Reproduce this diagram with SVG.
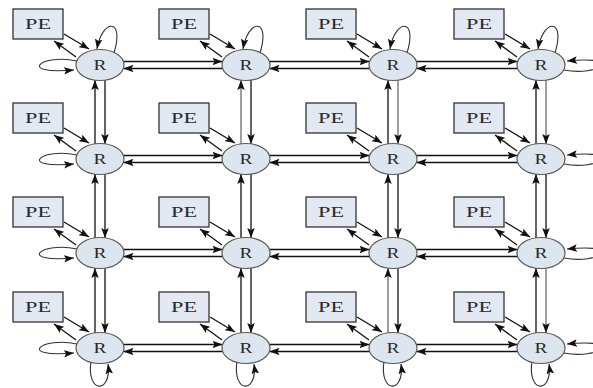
<svg xmlns="http://www.w3.org/2000/svg" xmlns:xlink="http://www.w3.org/1999/xlink" width="593" height="388" viewBox="0 0 593 388">
<style>
.l{stroke:#111;stroke-width:1.3;fill:none;marker-end:url(#ah)}
.g{stroke:#8e8e8e;stroke-width:1.7}
.lp{stroke:#333;stroke-width:1.1;fill:none;marker-end:url(#ah)}
.r ellipse{fill:#dde5ef;stroke:#5a5a5a;stroke-width:1.2}
.p rect{fill:#e2e9f2;stroke:#333;stroke-width:1.3}
text{font-family:"Liberation Serif","Times New Roman",serif;font-size:15px;fill:#2a2a2a;text-anchor:middle}
</style>
<defs>
<marker id="ah" markerUnits="userSpaceOnUse" markerWidth="10" markerHeight="7.5" refX="10" refY="3.75" orient="auto" viewBox="0 0 10 7.5">
<path d="M0,0 L10,3.75 L0,7.5 L2,3.75 z" fill="#111"/>
</marker>
<g id="pa">
<path class="l" d="M-36,-31 L-11,-16"/>
<path class="l" d="M-24,-8 L-46,-24"/>
</g>
<path id="lt" class="lp" d="M14,-12 C25,-48 2,-46 -3,-16"/>
<path id="ll" class="lp" d="M-23,-4 C-58,-12 -85,10 -26,5"/>
<path id="lr" class="lp" d="M23,5 C58,12 85,-10 26,-4"/>
<path id="lb" class="lp" d="M-9,13 C-14,46 12,46 8,16"/>
</defs>
<g id="connectors">
<path class="l" d="M123.5,61.5 H222.5"/><path class="l" d="M222.5,68.5 H123.5"/>
<path class="l" d="M269.5,61.5 H369.5"/><path class="l" d="M369.5,68.5 H269.5"/>
<path class="l" d="M416.5,61.5 H517.5"/><path class="l" d="M517.5,68.5 H416.5"/>
<path class="l" d="M123.5,155.5 H222.5"/><path class="l" d="M222.5,162.5 H123.5"/>
<path class="l" d="M269.5,155.5 H369.5"/><path class="l" d="M369.5,162.5 H269.5"/>
<path class="l" d="M416.5,155.5 H517.5"/><path class="l" d="M517.5,162.5 H416.5"/>
<path class="l" d="M123.5,249.5 H222.5"/><path class="l" d="M222.5,256.5 H123.5"/>
<path class="l" d="M269.5,249.5 H369.5"/><path class="l" d="M369.5,256.5 H269.5"/>
<path class="l" d="M416.5,249.5 H517.5"/><path class="l" d="M517.5,256.5 H416.5"/>
<path class="l" d="M123.5,344.5 H222.5"/><path class="l" d="M222.5,351.5 H123.5"/>
<path class="l" d="M269.5,344.5 H369.5"/><path class="l" d="M369.5,351.5 H269.5"/>
<path class="l" d="M416.5,344.5 H517.5"/><path class="l" d="M517.5,351.5 H416.5"/>
<path class="l" d="M95,144 V80"/><path class="l" d="M105,80 V144"/>
<path class="l" d="M95,238 V174"/><path class="l" d="M105,174 V238"/>
<path class="l" d="M95,333 V268"/><path class="l" d="M105,268 V333"/>
<path class="l g" d="M241,144 V80"/><path class="l" d="M251,80 V144"/>
<path class="l" d="M241,238 V174"/><path class="l" d="M251,174 V238"/>
<path class="l" d="M241,333 V268"/><path class="l" d="M251,268 V333"/>
<path class="l" d="M388,144 V80"/><path class="l g" d="M398,80 V144"/>
<path class="l" d="M388,238 V174"/><path class="l" d="M398,174 V238"/>
<path class="l g" d="M388,333 V268"/><path class="l" d="M398,268 V333"/>
<path class="l" d="M536,144 V80"/><path class="l g" d="M546,80 V144"/>
<path class="l" d="M536,238 V174"/><path class="l" d="M546,174 V238"/>
<path class="l" d="M536,333 V268"/><path class="l g" d="M546,268 V333"/>
<use xlink:href="#pa" x="100" y="65"/><use xlink:href="#pa" x="246" y="65"/><use xlink:href="#pa" x="393" y="65"/><use xlink:href="#pa" x="541" y="65"/>
<use xlink:href="#pa" x="100" y="159"/><use xlink:href="#pa" x="246" y="159"/><use xlink:href="#pa" x="393" y="159"/><use xlink:href="#pa" x="541" y="159"/>
<use xlink:href="#pa" x="100" y="253"/><use xlink:href="#pa" x="246" y="253"/><use xlink:href="#pa" x="393" y="253"/><use xlink:href="#pa" x="541" y="253"/>
<use xlink:href="#pa" x="100" y="348"/><use xlink:href="#pa" x="246" y="348"/><use xlink:href="#pa" x="393" y="348"/><use xlink:href="#pa" x="541" y="348"/>
<use xlink:href="#lt" x="100" y="65"/><use xlink:href="#lt" x="246" y="65"/><use xlink:href="#lt" x="393" y="65"/><use xlink:href="#lt" x="541" y="65"/>
<use xlink:href="#ll" x="100" y="65"/><use xlink:href="#ll" x="100" y="159"/><use xlink:href="#ll" x="100" y="253"/><use xlink:href="#ll" x="100" y="348"/>
<use xlink:href="#lr" x="541" y="65"/><use xlink:href="#lr" x="541" y="159"/><use xlink:href="#lr" x="541" y="253"/><use xlink:href="#lr" x="541" y="348"/>
<use xlink:href="#lb" x="100" y="348"/><use xlink:href="#lb" x="246" y="348"/><use xlink:href="#lb" x="393" y="348"/><use xlink:href="#lb" x="541" y="348"/>
</g>
<g id="nodes">
<g id="pe-1-1" class="p" transform="translate(100,65)"><rect x="-87" y="-56" width="50" height="30"/><text x="-62" y="-36" textLength="26" lengthAdjust="spacingAndGlyphs">PE</text></g>
<g id="pe-1-2" class="p" transform="translate(246,65)"><rect x="-87" y="-56" width="50" height="30"/><text x="-62" y="-36" textLength="26" lengthAdjust="spacingAndGlyphs">PE</text></g>
<g id="pe-1-3" class="p" transform="translate(393,65)"><rect x="-87" y="-56" width="50" height="30"/><text x="-62" y="-36" textLength="26" lengthAdjust="spacingAndGlyphs">PE</text></g>
<g id="pe-1-4" class="p" transform="translate(541,65)"><rect x="-87" y="-56" width="50" height="30"/><text x="-62" y="-36" textLength="26" lengthAdjust="spacingAndGlyphs">PE</text></g>
<g id="pe-2-1" class="p" transform="translate(100,159)"><rect x="-87" y="-56" width="50" height="30"/><text x="-62" y="-36" textLength="26" lengthAdjust="spacingAndGlyphs">PE</text></g>
<g id="pe-2-2" class="p" transform="translate(246,159)"><rect x="-87" y="-56" width="50" height="30"/><text x="-62" y="-36" textLength="26" lengthAdjust="spacingAndGlyphs">PE</text></g>
<g id="pe-2-3" class="p" transform="translate(393,159)"><rect x="-87" y="-56" width="50" height="30"/><text x="-62" y="-36" textLength="26" lengthAdjust="spacingAndGlyphs">PE</text></g>
<g id="pe-2-4" class="p" transform="translate(541,159)"><rect x="-87" y="-56" width="50" height="30"/><text x="-62" y="-36" textLength="26" lengthAdjust="spacingAndGlyphs">PE</text></g>
<g id="pe-3-1" class="p" transform="translate(100,253)"><rect x="-87" y="-56" width="50" height="30"/><text x="-62" y="-36" textLength="26" lengthAdjust="spacingAndGlyphs">PE</text></g>
<g id="pe-3-2" class="p" transform="translate(246,253)"><rect x="-87" y="-56" width="50" height="30"/><text x="-62" y="-36" textLength="26" lengthAdjust="spacingAndGlyphs">PE</text></g>
<g id="pe-3-3" class="p" transform="translate(393,253)"><rect x="-87" y="-56" width="50" height="30"/><text x="-62" y="-36" textLength="26" lengthAdjust="spacingAndGlyphs">PE</text></g>
<g id="pe-3-4" class="p" transform="translate(541,253)"><rect x="-87" y="-56" width="50" height="30"/><text x="-62" y="-36" textLength="26" lengthAdjust="spacingAndGlyphs">PE</text></g>
<g id="pe-4-1" class="p" transform="translate(100,348)"><rect x="-87" y="-56" width="50" height="30"/><text x="-62" y="-36" textLength="26" lengthAdjust="spacingAndGlyphs">PE</text></g>
<g id="pe-4-2" class="p" transform="translate(246,348)"><rect x="-87" y="-56" width="50" height="30"/><text x="-62" y="-36" textLength="26" lengthAdjust="spacingAndGlyphs">PE</text></g>
<g id="pe-4-3" class="p" transform="translate(393,348)"><rect x="-87" y="-56" width="50" height="30"/><text x="-62" y="-36" textLength="26" lengthAdjust="spacingAndGlyphs">PE</text></g>
<g id="pe-4-4" class="p" transform="translate(541,348)"><rect x="-87" y="-56" width="50" height="30"/><text x="-62" y="-36" textLength="26" lengthAdjust="spacingAndGlyphs">PE</text></g>
<g id="r-1-1" class="r" transform="translate(100,65)"><ellipse rx="24" ry="15.5"/><text y="5" textLength="13" lengthAdjust="spacingAndGlyphs">R</text></g>
<g id="r-1-2" class="r" transform="translate(246,65)"><ellipse rx="24" ry="15.5"/><text y="5" textLength="13" lengthAdjust="spacingAndGlyphs">R</text></g>
<g id="r-1-3" class="r" transform="translate(393,65)"><ellipse rx="24" ry="15.5"/><text y="5" textLength="13" lengthAdjust="spacingAndGlyphs">R</text></g>
<g id="r-1-4" class="r" transform="translate(541,65)"><ellipse rx="24" ry="15.5"/><text y="5" textLength="13" lengthAdjust="spacingAndGlyphs">R</text></g>
<g id="r-2-1" class="r" transform="translate(100,159)"><ellipse rx="24" ry="15.5"/><text y="5" textLength="13" lengthAdjust="spacingAndGlyphs">R</text></g>
<g id="r-2-2" class="r" transform="translate(246,159)"><ellipse rx="24" ry="15.5"/><text y="5" textLength="13" lengthAdjust="spacingAndGlyphs">R</text></g>
<g id="r-2-3" class="r" transform="translate(393,159)"><ellipse rx="24" ry="15.5"/><text y="5" textLength="13" lengthAdjust="spacingAndGlyphs">R</text></g>
<g id="r-2-4" class="r" transform="translate(541,159)"><ellipse rx="24" ry="15.5"/><text y="5" textLength="13" lengthAdjust="spacingAndGlyphs">R</text></g>
<g id="r-3-1" class="r" transform="translate(100,253)"><ellipse rx="24" ry="15.5"/><text y="5" textLength="13" lengthAdjust="spacingAndGlyphs">R</text></g>
<g id="r-3-2" class="r" transform="translate(246,253)"><ellipse rx="24" ry="15.5"/><text y="5" textLength="13" lengthAdjust="spacingAndGlyphs">R</text></g>
<g id="r-3-3" class="r" transform="translate(393,253)"><ellipse rx="24" ry="15.5"/><text y="5" textLength="13" lengthAdjust="spacingAndGlyphs">R</text></g>
<g id="r-3-4" class="r" transform="translate(541,253)"><ellipse rx="24" ry="15.5"/><text y="5" textLength="13" lengthAdjust="spacingAndGlyphs">R</text></g>
<g id="r-4-1" class="r" transform="translate(100,348)"><ellipse rx="24" ry="15.5"/><text y="5" textLength="13" lengthAdjust="spacingAndGlyphs">R</text></g>
<g id="r-4-2" class="r" transform="translate(246,348)"><ellipse rx="24" ry="15.5"/><text y="5" textLength="13" lengthAdjust="spacingAndGlyphs">R</text></g>
<g id="r-4-3" class="r" transform="translate(393,348)"><ellipse rx="24" ry="15.5"/><text y="5" textLength="13" lengthAdjust="spacingAndGlyphs">R</text></g>
<g id="r-4-4" class="r" transform="translate(541,348)"><ellipse rx="24" ry="15.5"/><text y="5" textLength="13" lengthAdjust="spacingAndGlyphs">R</text></g>
</g>
</svg>
